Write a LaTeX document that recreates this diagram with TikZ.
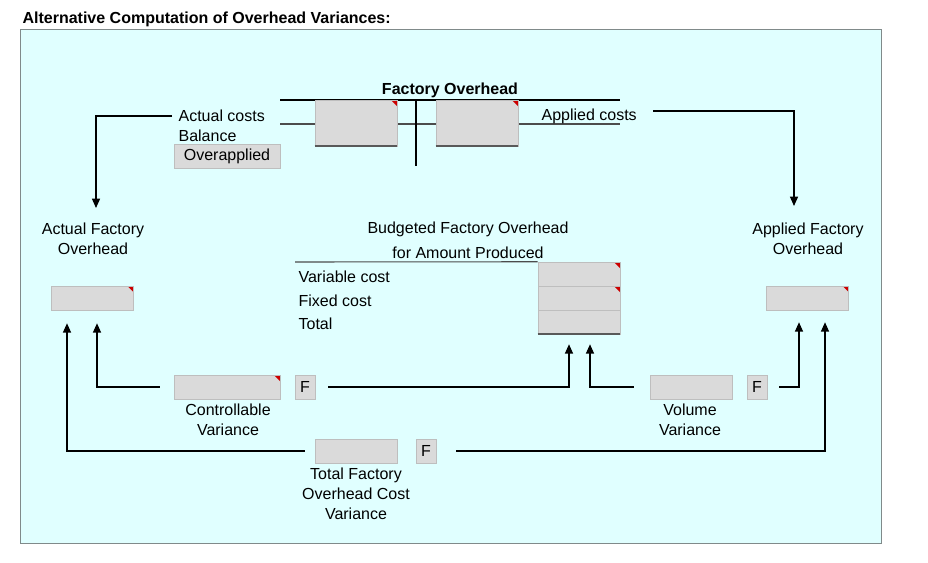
\documentclass[tikz,border=0pt]{standalone}
\usepackage{fontspec}
\setmainfont{Liberation Sans}
\usepackage{tikz}
\usetikzlibrary{arrows.meta,calc}
\definecolor{panelCyan}{RGB}{224,255,255}
\definecolor{frameGray}{RGB}{128,138,138}
\definecolor{cellGray}{RGB}{218,218,218}
\definecolor{cellEdge}{RGB}{190,190,190}
\definecolor{noteRed}{RGB}{204,0,0}
\tikzset{
  txt/.style={font=\fontsize{12}{15}\selectfont, inner sep=1pt, align=center},
  cell/.style={draw=cellEdge, fill=cellGray, minimum width=61.5pt, minimum height=18pt,
    inner sep=0pt, font=\fontsize{12}{14}\selectfont},
  widecell/.style={cell, minimum width=79.5pt},
  flagcell/.style={cell, minimum width=15pt},
  noted/.style={path picture={\fill[noteRed] (path picture bounding box.north east)
    -- ++(-4.5pt,0pt) -- ++(4.5pt,-4.5pt) -- cycle;}},
  link/.style={line width=1pt},
  arr/.style={link, -{Triangle[length=7pt,width=6pt]}},
  sumline/.style={line width=1.4pt, draw=black!65},
}

\begin{document}
\begin{tikzpicture}[x=0.75pt,y=-0.75pt]
  \useasboundingbox (0,0) rectangle (928,562);
  % Panel
  \draw[frameGray, fill=panelCyan] (20,29) rectangle (881,543);
  \node[txt, font=\fontsize{12}{15}\selectfont\bfseries, anchor=west] (head) at (21,19)
    {Alternative Computation of Overhead Variances:};

  % Factory Overhead account
  \node[txt, font=\fontsize{12}{15}\selectfont\bfseries] (fohtitle) at (450,90) {Factory Overhead};
  \draw[link] (280,100) -- (620,100);
  \draw[black!70, line width=0.8pt] (280,124) -- (620,124);
  \draw[link] (416,100) -- (416,166);
  \node[cell, noted, minimum height=34.5pt] (debit) at (356,123) {};
  \node[cell, noted, minimum height=34.5pt] (credit) at (477,123) {};
  \draw[sumline] (debit.south west) -- (debit.south east);
  \draw[sumline] (credit.south west) -- (credit.south east);
  \node[txt, anchor=west] (actcosts) at (177,116) {Actual costs};
  \node[txt, anchor=west] (balance) at (177,136) {Balance};
  \node[widecell] (overapp) at (227,156) {Overapplied};
  \node[txt, anchor=west] (appcosts) at (540,116) {Applied costs};

  % Actual and applied overhead
  \node[txt] (actlabel) at (93,239) {Actual Factory\\Overhead};
  \node[cell, noted] (actual) at (92.5,298) {};
  \node[txt] (applabel) at (808,239) {Applied Factory\\Overhead};
  \node[cell, noted] (applied) at (807.5,298) {};
  \coordinate (actin) at (96,208);
  \coordinate (appout) at (653,111);
  \coordinate (appin) at (794,206);
  \draw[arr] ($(actcosts.west)+(-5,0)$) -| (actin);
  \draw[arr] (appout) -| (appin);

  % Budget for amount produced
  \node[txt] (budtitle) at (468,229) {Budgeted Factory Overhead};
  \node[txt] (budsub) at (468,253) {for Amount Produced};
  \node[cell, noted] (budvar) at (579,274) {};
  \node[cell, noted] (budfix) at (579,298) {};
  \node[cell] (budtot) at (579,322) {};
  \draw[sumline] (budtot.south west) -- (budtot.south east);
  \draw[black!70, line width=0.8pt] (295,262) -- (budvar.north west);
  \node[txt, anchor=west] (varcost) at (297,277) {Variable cost};
  \node[txt, anchor=west] (fixcost) at (297,301) {Fixed cost};
  \node[txt, anchor=west] (totcost) at (297,324) {Total};

  % Variances
  \node[widecell, noted] (ctrl) at (227,387) {};
  \node[flagcell] (ctrlF) at (305,387) {F};
  \node[txt] (ctrllabel) at (228,420) {Controllable\\Variance};
  \node[cell] (vol) at (691,387) {};
  \node[flagcell] (volF) at (757,387) {F};
  \node[txt] (vollabel) at (690,420) {Volume\\Variance};
  \node[cell] (tot) at (356,451) {};
  \node[flagcell] (totF) at (426,451) {F};
  \node[txt] (totlabel) at (356,494) {Total Factory\\Overhead Cost\\Variance};

  \draw[arr] ($(ctrl.west)+(-14,0)$) -| ($(actual.south)+(4.5,13)$);
  \draw[arr] ($(ctrlF.east)+(13,0)$) -| ($(budtot.south)+(-10,10)$);
  \draw[arr] ($(vol.west)+(-16,0)$) -| ($(budtot.south)+(11,10)$);
  \draw[arr] ($(volF.east)+(12,0)$) -| ($(applied.south)+(-8.5,12)$);
  \draw[arr] ($(tot.west)+(-10,0)$) -| ($(actual.south)+(-25.5,13)$);
  \draw[arr] ($(totF.east)+(20,0)$) -| ($(applied.south)+(17.5,12)$);
\end{tikzpicture}
\end{document}
